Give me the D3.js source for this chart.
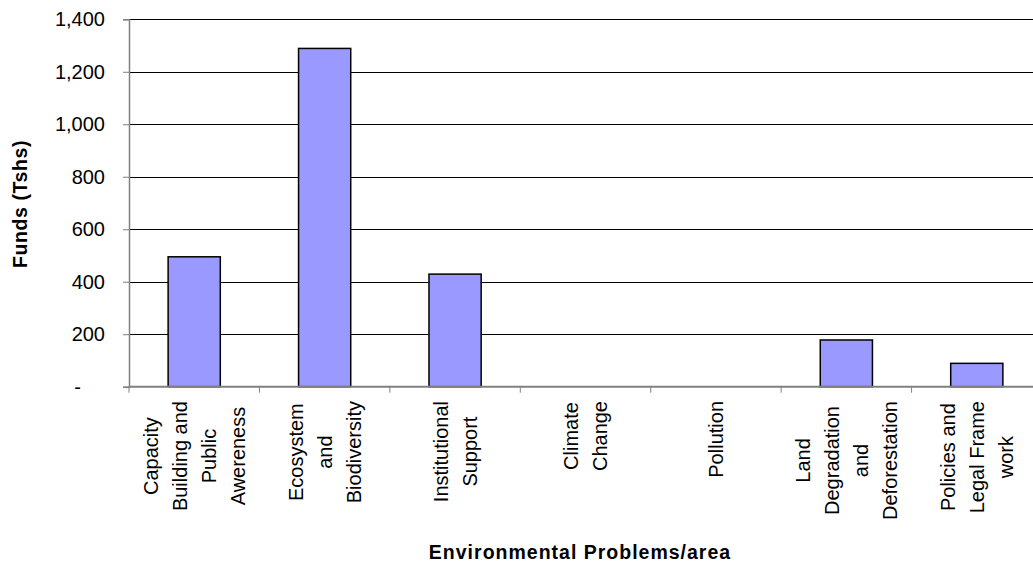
<!DOCTYPE html>
<html>
<head>
<meta charset="utf-8">
<script src="https://cdn.jsdelivr.net/npm/d3@7"></script>
<style>
  html, body { margin: 0; padding: 0; background: #ffffff; }
  svg { display: block; font-family: "Liberation Sans", Arial, sans-serif; }
</style>
</head>
<body>
<svg id="chart" width="1033" height="566"></svg>
<script>
// Funds per environmental problem area (Tshs)
const categories = [
  "Capacity Building and Public Awereness",
  "Ecosystem and Biodiversity",
  "Institutional Support",
  "Climate Change",
  "Pollution",
  "Land Degradation and Deforestation",
  "Policies and Legal Frame work"
];
const categoryLines = [
  ["Capacity", "Building and", "Public", "Awereness"],
  ["Ecosystem", "and", "Biodiversity"],
  ["Institutional", "Support"],
  ["Climate", "Change"],
  ["Pollution"],
  ["Land", "Degradation", "and", "Deforestation"],
  ["Policies and", "Legal Frame", "work"]
];
const funds = [495, 1289, 429, 0, 0, 178, 89];
const yTicks = [0, 200, 400, 600, 800, 1000, 1200, 1400];
const yTitle = "Funds (Tshs)";
const xTitle = "Environmental Problems/area";

const svg = d3.select("#chart");

const plotLeft = 129, plotRight = 1042, plotTop = 19.3, plotBottom = 386.7;

const x = d3.scaleBand()
  .domain(categories)
  .range([plotLeft, plotRight])
  .paddingInner(0.6)
  .paddingOuter(0.3);

const y = d3.scaleLinear()
  .domain([0, 1400])
  .range([plotBottom, plotTop]);

// gridlines
svg.append("g")
  .selectAll("line")
  .data(yTicks.filter(d => d > 0))
  .join("line")
  .attr("x1", plotLeft)
  .attr("x2", plotRight)
  .attr("y1", d => Math.round(y(d)) + 0.5)
  .attr("y2", d => Math.round(y(d)) + 0.5)
  .attr("stroke", "#000")
  .attr("stroke-width", 1);

// bars
svg.append("g")
  .selectAll("rect")
  .data(categories.map((c, i) => ({ c, v: funds[i] })).filter(d => d.v > 0))
  .join("rect")
  .attr("x", d => x(d.c))
  .attr("width", x.bandwidth())
  .attr("y", d => y(d.v))
  .attr("height", d => y(0) - y(d.v))
  .attr("fill", "#9999FF")
  .attr("stroke", "#000")
  .attr("stroke-width", 1.5);

// y axis
const yAxis = d3.axisLeft(y)
  .tickValues(yTicks)
  .tickSize(6)
  .tickPadding(18)
  .tickFormat(d => d === 0 ? "-" : d3.format(",")(d));

const gy = svg.append("g")
  .attr("transform", `translate(${plotLeft},0)`)
  .call(yAxis);
gy.select(".domain").attr("stroke", "#808080").attr("stroke-width", 1.5);
gy.selectAll(".tick line").attr("stroke", "#808080").attr("stroke-width", 1);
gy.selectAll(".tick text")
  .attr("font-size", 20)
  .attr("font-family", "Liberation Sans, Arial, sans-serif")
  .attr("fill", "#000")
  .attr("dx", d => d === 0 ? -24 : 0);

// x axis (category boundaries as ticks)
const xAxisY = plotBottom;
svg.append("line")
  .attr("x1", plotLeft).attr("x2", plotRight)
  .attr("y1", xAxisY).attr("y2", xAxisY)
  .attr("stroke", "#808080").attr("stroke-width", 2);

const step = x.step();
const boundaries = d3.range(categories.length + 1).map(i => plotLeft + i * step);
svg.append("g")
  .selectAll("line")
  .data(boundaries)
  .join("line")
  .attr("x1", d => d).attr("x2", d => d)
  .attr("y1", xAxisY).attr("y2", xAxisY + 6)
  .attr("stroke", "#808080").attr("stroke-width", 1);

// rotated category labels
const lineGap = 29;
const labelTop = 401;
categories.forEach((c, i) => {
  const cx = x(c) + x.bandwidth() / 2;
  const lines = categoryLines[i];
  const g = svg.append("g");
  const texts = lines.map((ln, j) => {
    const lx = cx + (j - (lines.length - 1) / 2) * lineGap;
    return g.append("text")
      .attr("transform", `translate(${lx},0) rotate(-90)`)
      .attr("text-anchor", "middle")
      .attr("dy", "0.36em")
      .attr("font-size", 20)
      .attr("fill", "#000")
      .text(ln);
  });
  const maxLen = d3.max(texts, t => t.node().getComputedTextLength());
  const cy = labelTop + maxLen / 2;
  texts.forEach((t, j) => {
    const lx = cx + (j - (lines.length - 1) / 2) * lineGap;
    t.attr("transform", `translate(${lx},${cy}) rotate(-90)`);
  });
});

// axis titles
svg.append("text")
  .attr("x", 580)
  .attr("y", 559)
  .attr("text-anchor", "middle")
  .attr("font-size", 19.5)
  .attr("font-weight", "bold")
  .attr("letter-spacing", "1px")
  .text(xTitle);

svg.append("text")
  .attr("transform", `translate(27,204) rotate(-90)`)
  .attr("text-anchor", "middle")
  .attr("font-size", 19.5)
  .attr("font-weight", "bold")
  .attr("letter-spacing", "0.6px")
  .text(yTitle);
</script>
</body>
</html>
